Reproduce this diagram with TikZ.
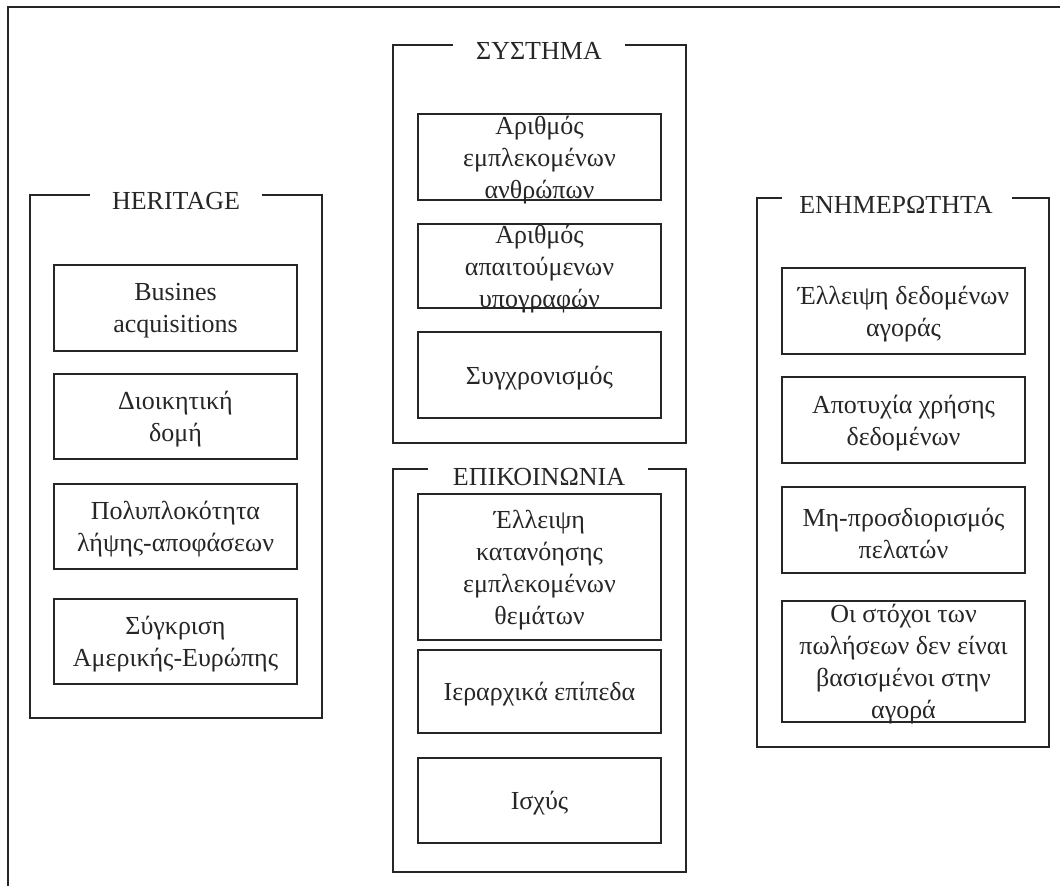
\documentclass[tikz,border=0pt]{standalone}
\usepackage{fontspec}
\setmainfont{Liberation Serif}
\begin{document}
\begin{tikzpicture}[x=1pt,y=-1pt,
  frame/.style={line width=1.2pt,draw=black!85},
  itembox/.style={draw=black!85,line width=1.2pt,rectangle,inner sep=0pt},
  itemtxt/.style={align=center,inner sep=0pt,text=black!85,font=\fontsize{26}{32}\selectfont},
  title/.style={anchor=base,inner sep=0pt,text=black!85,font=\fontsize{26}{32}\selectfont}]
\useasboundingbox (0,0) rectangle (1060,886);
% outer frame (cropped)
\draw[frame] (8,886) -- (8,7) -- (1060,7);

% macro-free group frames
% HERITAGE
\draw[frame] (90,195) -- (30,195) -- (30,718) -- (322,718) -- (322,195) -- (262,195);
\node[title] (tH) at (176,209) {HERITAGE};
% SYSTHMA
\draw[frame] (453,45) -- (393,45) -- (393,443) -- (686,443) -- (686,45) -- (625,45);
\node[title] (tS) at (539,59) {ΣΥΣΤΗΜΑ};
% EPIKOINONIA
\draw[frame] (428,469) -- (393,469) -- (393,872) -- (686,872) -- (686,469) -- (648,469);
\node[title] (tE) at (539,485) {ΕΠΙΚΟΙΝΩΝΙΑ};
% ENHMEROTHTA
\draw[frame] (782,198) -- (757,198) -- (757,747) -- (1049,747) -- (1049,198) -- (1012,198);
\node[title] (tN) at (896,213) {ΕΝΗΜΕΡΩΤΗΤΑ};

% item boxes
\newcommand{\itemat}[6]{%
  \node[itembox,minimum width=#3-#2,minimum height=#5-#4] (#1) at ({(#2+#3)/2},{(#4+#5)/2}) {};
  \node[itemtxt,yshift=-3pt] (#1t) at (#1.center) {#6};}
\itemat{h1}{54}{297}{265}{351}{Busines\\acquisitions}
\itemat{h2}{54}{297}{374}{459}{Διοικητική\\δομή}
\itemat{h3}{54}{297}{484}{569}{Πολυπλοκότητα\\λήψης-αποφάσεων}
\itemat{h4}{54}{297}{599}{684}{Σύγκριση\\Αμερικής-Ευρώπης}

\itemat{s1}{418}{661}{114}{200}{Αριθμός\\εμπλεκομένων\\ανθρώπων}
\itemat{s2}{418}{661}{224}{308}{Αριθμός\\απαιτούμενων\\υπογραφών}
\itemat{s3}{418}{661}{332}{418}{Συγχρονισμός}

\itemat{e1}{418}{661}{494}{640}{Έλλειψη\\κατανόησης\\εμπλεκομένων\\θεμάτων}
\itemat{e2}{418}{661}{650}{733}{Ιεραρχικά επίπεδα}
\itemat{e3}{418}{661}{758}{843}{Ισχύς}

\itemat{n1}{782}{1025}{268}{354}{Έλλειψη δεδομένων\\αγοράς}
\itemat{n2}{782}{1025}{377}{463}{Αποτυχία χρήσης\\δεδομένων}
\itemat{n3}{782}{1025}{487}{573}{Μη-προσδιορισμός\\πελατών}
\itemat{n4}{782}{1025}{601}{722}{Οι στόχοι των\\πωλήσεων δεν είναι\\βασισμένοι στην\\αγορά}
\end{tikzpicture}
\end{document}
